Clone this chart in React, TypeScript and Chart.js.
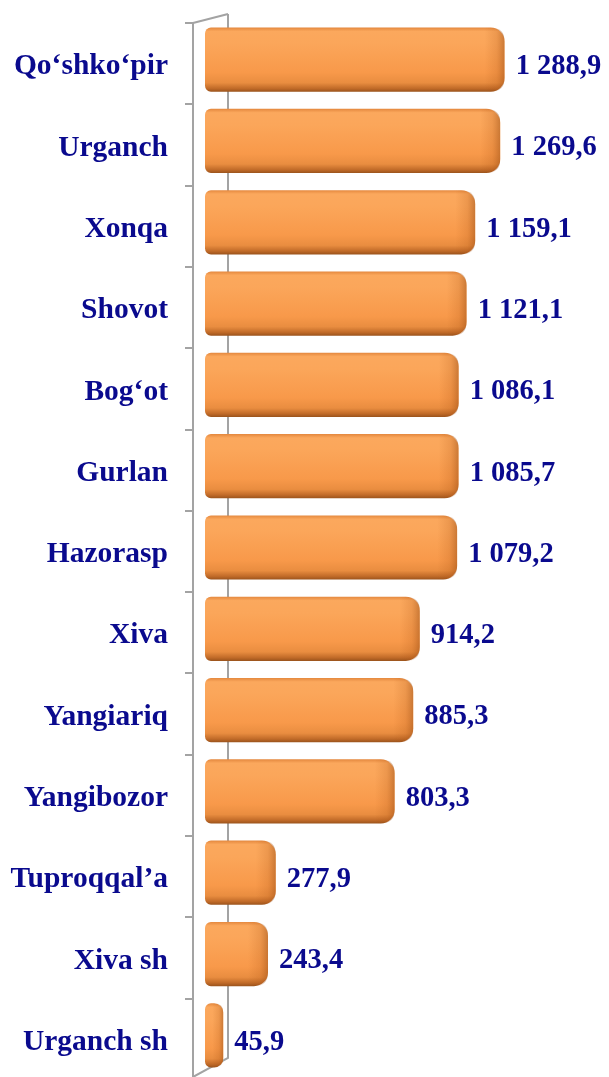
import { useEffect, useRef } from 'react';
import { Chart, registerables } from 'chart.js';

Chart.register(...registerables);

const categories = [
  'Qo‘shko‘pir',
  'Urganch',
  'Xonqa',
  'Shovot',
  'Bog‘ot',
  'Gurlan',
  'Hazorasp',
  'Xiva',
  'Yangiariq',
  'Yangibozor',
  'Tuproqqal’a',
  'Xiva sh',
  'Urganch sh',
];

const values = [1288.9, 1269.6, 1159.1, 1121.1, 1086.1, 1085.7, 1079.2, 914.2, 885.3, 803.3, 277.9, 243.4, 45.9];

const axisMin = -35;
const axisMax = 1750;

const TEXT_COLOR = '#0a0a8e';
const FONT_FAMILY = '"Liberation Serif", "Times New Roman", serif';

function fmt(v: number): string {
  const [ip, dp] = v.toFixed(1).split('.');
  const grouped = ip.replace(/\B(?=(\d{3})+(?!\d))/g, ' ');
  return grouped + ',' + dp;
}

function roundPath(ctx: CanvasRenderingContext2D, l: number, t: number, r: number, b: number, rl: number, rr: number) {
  const w = r - l;
  const h = b - t;
  const rR = Math.min(rr, w / 2, h / 2);
  const rL = Math.min(rl, w / 2, h / 2);
  ctx.beginPath();
  ctx.moveTo(l + rL, t);
  ctx.lineTo(r - rR, t);
  ctx.quadraticCurveTo(r, t, r, t + rR);
  ctx.lineTo(r, b - rR);
  ctx.quadraticCurveTo(r, b, r - rR, b);
  ctx.lineTo(l + rL, b);
  ctx.quadraticCurveTo(l, b, l, b - rL);
  ctx.lineTo(l, t + rL);
  ctx.quadraticCurveTo(l, t, l + rL, t);
  ctx.closePath();
}

const wallPlugin = {
  id: 'wall3d',
  beforeDatasetsDraw(chart: any) {
    const { ctx, chartArea } = chart;
    const n = categories.length;
    const band = (chartArea.bottom - chartArea.top) / n;
    const ys = chart.scales.y;
    const front = chartArea.left - 12;
    const back = chartArea.left + 23;
    const top0 = ys.getPixelForValue(0) - band / 2 + 4;
    ctx.save();
    ctx.strokeStyle = '#a3a3a3';
    ctx.lineWidth = 2;
    // back wall line
    ctx.beginPath();
    ctx.moveTo(back, top0 - 9);
    ctx.lineTo(back, chart.height - 19);
    ctx.lineTo(front, chart.height);
    ctx.stroke();
    // top slant
    ctx.beginPath();
    ctx.moveTo(front, top0);
    ctx.lineTo(back, top0 - 9);
    ctx.stroke();
    // front axis line
    ctx.beginPath();
    ctx.moveTo(front, top0);
    ctx.lineTo(front, chart.height);
    ctx.stroke();
    // tick marks
    for (let k = 0; k < n; k++) {
      const ty = Math.round(ys.getPixelForValue(k) - band / 2 + 4);
      ctx.beginPath();
      ctx.moveTo(front - 8, ty);
      ctx.lineTo(front, ty);
      ctx.stroke();
    }
    ctx.restore();
  },
};

const barFxPlugin = {
  id: 'barFx',
  afterDatasetsDraw(chart: any) {
    const { ctx } = chart;
    const meta = chart.getDatasetMeta(0);
    ctx.save();
    meta.data.forEach((bar: any, i: number) => {
      const l = bar.base;
      const r = bar.x;
      const t = bar.y - bar.height / 2;
      const b = bar.y + bar.height / 2;
      // right end shading
      ctx.save();
      roundPath(ctx, l, t, r, b, 6, 14);
      ctx.clip();
      const capW = Math.min(20, (r - l) * 0.6);
      const g = ctx.createLinearGradient(r - capW, 0, r, 0);
      g.addColorStop(0, 'rgba(170, 80, 15, 0)');
      g.addColorStop(0.6, 'rgba(170, 80, 15, 0.18)');
      g.addColorStop(1, 'rgba(140, 65, 10, 0.45)');
      ctx.fillStyle = g;
      ctx.fillRect(r - capW, t, capW, b - t);
      ctx.restore();
      // value label
      ctx.fillStyle = TEXT_COLOR;
      ctx.font = `bold 28.5px ${FONT_FAMILY}`;
      ctx.textAlign = 'left';
      ctx.textBaseline = 'middle';
      ctx.fillText(fmt(values[i]), r + 11, bar.y + 7);
    });
    ctx.restore();
  },
};

export default function App() {
  const ref = useRef<HTMLCanvasElement>(null);

  useEffect(() => {
    const canvas = ref.current!;
    const chart = new Chart(canvas, {
      type: 'bar',
      data: {
        labels: categories,
        datasets: [
          {
            data: values,
            base: axisMin,
            backgroundColor: (c: any) => {
              const ch = c.chart;
              const ys = ch.scales && ch.scales.y;
              if (!ys || !ch.chartArea || c.dataIndex === undefined) return '#f79a4b';
              const cy = ys.getPixelForValue(c.dataIndex);
              const band = (ch.chartArea.bottom - ch.chartArea.top) / categories.length;
              const h = band * 0.79;
              const g = ch.ctx.createLinearGradient(0, cy - h / 2, 0, cy + h / 2);
              g.addColorStop(0, '#e4883e');
              g.addColorStop(0.06, '#fba85d');
              g.addColorStop(0.25, '#fba65a');
              g.addColorStop(0.7, '#f8994a');
              g.addColorStop(0.86, '#e98d40');
              g.addColorStop(0.95, '#c06a28');
              g.addColorStop(1, '#9a531c');
              return g;
            },
            borderWidth: 0,
            borderSkipped: false,
            borderRadius: { topLeft: 6, bottomLeft: 6, topRight: 14, bottomRight: 14 },
            barPercentage: 0.79,
            categoryPercentage: 1,
          } as any,
        ],
      },
      options: {
        indexAxis: 'y',
        responsive: false,
        animation: false,
        devicePixelRatio: 1,
        layout: { padding: { top: 19, bottom: 1, left: 0, right: 0 } },
        plugins: {
          legend: { display: false },
          tooltip: { enabled: false },
          title: { display: false },
        },
        scales: {
          x: {
            type: 'linear',
            display: false,
            min: axisMin,
            max: axisMax,
          },
          y: {
            type: 'category',
            grid: { display: false, drawTicks: false },
            border: { display: false },
            ticks: {
              color: TEXT_COLOR,
              font: { family: FONT_FAMILY, size: 29.5, weight: 'bold' },
              padding: 37,
              labelOffset: 7,
              autoSkip: false,
            },
            afterFit: (scale: any) => {
              scale.width = 205;
              scale.paddingTop = 0;
              scale.paddingBottom = 0;
            },
          },
        },
      } as any,
      plugins: [wallPlugin, barFxPlugin],
    });
    return () => chart.destroy();
  }, []);

  return (
    <div style={{ position: 'fixed', left: 0, top: 0, width: 609, height: 1077, background: '#ffffff' }}>
      <canvas ref={ref} width={609} height={1077} style={{ display: 'block', width: 609, height: 1077 }} />
    </div>
  );
}
